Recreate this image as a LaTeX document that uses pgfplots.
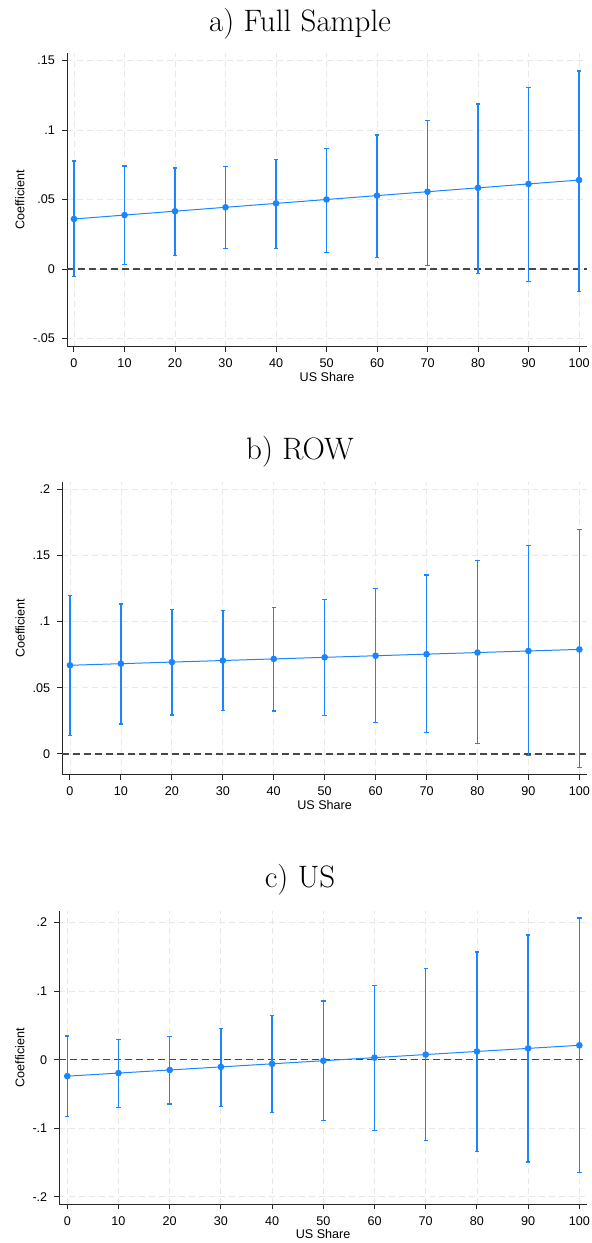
\documentclass[border=0pt]{standalone}
\usepackage{fontspec}
\usepackage{pgfplots}
\pgfplotsset{compat=1.18}
\usepackage{pgfplotstable}
\newfontfamily\statafont{Liberation Sans}
\definecolor{stblue}{RGB}{26,133,255}

% full sample
\pgfplotstableread{
x   y       lo       hi
0   0.0360  -0.0055  0.0777
10  0.0388  0.0030   0.0741
20  0.0416  0.0100   0.0727
30  0.0444  0.0145   0.0740
40  0.0472  0.0145   0.0790
50  0.0500  0.0120   0.0868
60  0.0528  0.0080   0.0964
70  0.0556  0.0025   0.1070
80  0.0584  -0.0030  0.1187
90  0.0612  -0.0090  0.1305
100 0.0640  -0.0160  0.1424
}\fulltab
% ROW
\pgfplotstableread{
x   y       lo       hi
0   0.0670  0.0140   0.1198
10  0.0682  0.0227   0.1133
20  0.0694  0.0295   0.1093
30  0.0706  0.0330   0.1082
40  0.0718  0.0325   0.1108
50  0.0730  0.0292   0.1168
60  0.0742  0.0237   0.1251
70  0.0754  0.0161   0.1352
80  0.0766  0.0078   0.1463
90  0.0778  -0.0010  0.1573
100 0.0790  -0.0103  0.1694
}\rowtab
% US
\pgfplotstableread{
x   y        lo       hi
0   -0.0240  -0.0830  0.0345
10  -0.0195  -0.0694  0.0297
20  -0.0150  -0.0646  0.0340
30  -0.0105  -0.0680  0.0460
40  -0.0060  -0.0773  0.0647
50  -0.0015  -0.0890  0.0856
60  0.0030   -0.1030  0.1085
70  0.0075   -0.1175  0.1327
80  0.0120   -0.1335  0.1570
90  0.0165   -0.1490  0.1818
100 0.0210   -0.1650  0.2066
}\ustab

\pgfplotsset{
  statastyle/.style={
    scale only axis,
    axis x line*=bottom, axis y line*=left,
    axis line style={-, black!85, line width=0.5pt},
    tick align=outside, major tick length=2.5pt,
    tick style={black!85, line width=0.5pt},
    xtick={0,10,...,100},
    /pgf/number format/assume math mode=true,
    tick label style={font=\statafont\fontsize{6.3}{7}\selectfont},
    label style={font=\statafont\fontsize{6.3}{7}\selectfont},
    xlabel={US Share}, ylabel={Coefficient},
    xlabel style={at={(axis description cs:0.5,0)}, anchor=north, inner sep=0pt, yshift=-12.3pt},
    grid=major,
    grid style={gray!18, line width=0.4pt, dash pattern=on 3pt off 2pt},
    clip=false,
  },
  ciplot/.style={
    color=stblue, line width=0.5pt, mark=*, mark size=1.4pt,
    mark options={fill=stblue, draw=stblue},
    error bars/.cd, y dir=both, y explicit,
    error bar style={line width=0.75pt, stblue},
    error mark options={stblue, rotate=90, mark size=1.1pt, line width=0.6pt},
  },
  zeroline/.style={black!72, line width=0.75pt, dash pattern=on 3.5pt off 2pt, forget plot},
}

\begin{document}
\begin{tikzpicture}
\path[use as bounding box] (0,0) rectangle (295.5pt,621.5pt);

\node[anchor=base, font=\fontsize{15.5}{18}\selectfont] at (150pt,605.5pt) {a) Full Sample};
\begin{axis}[statastyle,
  at={(33.5pt,448pt)}, anchor=south west,
  width=260pt, height=147pt,
  xmin=-1.386, xmax=101.58, ymin=-0.0561, ymax=0.1554,
  ytick={-0.05,0,0.05,0.1,0.15}, yticklabels={-.05,0,.05,.1,.15},
  ylabel style={at={(axis description cs:-0.0904,0.5)}, anchor=center},
]
\addplot[zeroline] coordinates {(-1.386,0) (101.58,0)};
\addplot[ciplot] table[x=x, y=y,
  y error plus expr=\thisrow{hi}-\thisrow{y},
  y error minus expr=\thisrow{y}-\thisrow{lo}] {\fulltab};
\end{axis}

\node[anchor=base, font=\fontsize{15.5}{18}\selectfont] at (150pt,391.5pt) {b) ROW};
\begin{axis}[statastyle,
  at={(31.15pt,234pt)}, anchor=south west,
  width=262.35pt, height=146.65pt,
  xmin=-1.51, xmax=101.5, ymin=-0.0159, ymax=0.2057,
  ytick={0,0.05,0.1,0.15,0.2}, yticklabels={0,.05,.1,.15,.2},
  ylabel style={at={(axis description cs:-0.0806,0.5)}, anchor=center},
]
\addplot[zeroline] coordinates {(-1.51,0) (101.5,0)};
\addplot[ciplot] table[x=x, y=y,
  y error plus expr=\thisrow{hi}-\thisrow{y},
  y error minus expr=\thisrow{y}-\thisrow{lo}] {\rowtab};
\end{axis}

\node[anchor=base, font=\fontsize{15.5}{18}\selectfont] at (150pt,177.5pt) {c) US};
\begin{axis}[statastyle,
  at={(29.65pt,19.35pt)}, anchor=south west,
  width=263.85pt, height=146.8pt,
  xmin=-1.56, xmax=101.5, ymin=-0.2108, ymax=0.2172,
  ytick={-0.2,-0.1,0,0.1,0.2}, yticklabels={-.2,-.1,0,.1,.2},
  ylabel style={at={(axis description cs:-0.0745,0.5)}, anchor=center},
]
\addplot[zeroline] coordinates {(-1.56,0) (101.5,0)};
\addplot[ciplot] table[x=x, y=y,
  y error plus expr=\thisrow{hi}-\thisrow{y},
  y error minus expr=\thisrow{y}-\thisrow{lo}] {\ustab};
\end{axis}
\end{tikzpicture}
\end{document}
